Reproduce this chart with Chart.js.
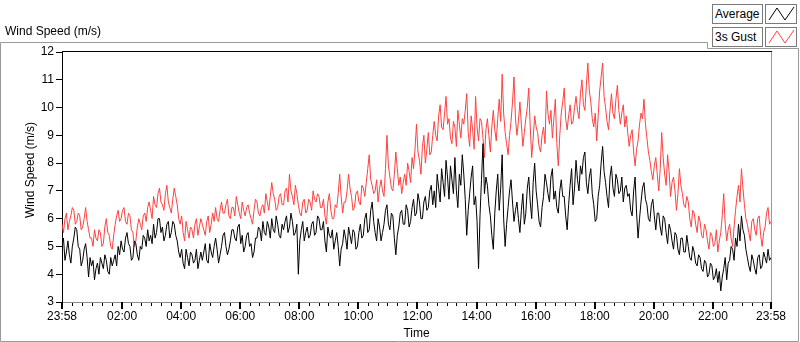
<!DOCTYPE html>
<html>
<head>
<meta charset="utf-8">
<script src="https://cdn.jsdelivr.net/npm/chart.js@4/dist/chart.umd.min.js"></script>
<style>
html,body{margin:0;padding:0;background:#fff;}
#wrap{position:relative;width:800px;height:342px;overflow:hidden;}
#c{position:absolute;left:0;top:0;}
.ttl{position:absolute;left:5px;top:24px;font:12px "Liberation Sans",Arial,sans-serif;color:#000;white-space:nowrap;}
.lgtext{position:absolute;width:47px;height:18px;border:1px solid #7a7a7a;background:#fff;font:12px "Liberation Sans",Arial,sans-serif;line-height:18px;padding-left:2px;color:#000;box-sizing:content-box;}
.lgicon{position:absolute;width:30px;height:18px;border:1px solid #7a7a7a;background:#fff;}
.lgicon svg{display:block;}
</style>
</head>
<body>
<div id="wrap">
<canvas id="c" width="800" height="342"></canvas>
<div class="ttl">Wind Speed (m/s)</div>
<div class="lgtext" style="left:712px;top:4px;">Average</div>
<div class="lgicon" style="left:765px;top:4px;"><svg width="30" height="18"><polyline points="3,15 11,3 19,15 28,2" fill="none" stroke="#000" stroke-width="1"/></svg></div>
<div class="lgtext" style="left:712px;top:27px;">3s Gust</div>
<div class="lgicon" style="left:765px;top:27px;"><svg width="30" height="18"><polyline points="3,15 11,3 19,15 28,2" fill="none" stroke="#ff4040" stroke-width="1"/></svg></div>
</div>
<script>
// ---- data (one sample every 3 minutes, starting 23:58) ----
const sampleMinutes = 3;
const seriesNames = ['Average', '3s Gust'];
const avgSpeed = [
5.0, 5.3, 4.5, 4.8, 5.2, 4.7, 4.4, 5.0, 5.3, 5.7, 5.6, 5.0, 4.9, 4.3, 4.5, 4.9, 5.1, 4.6, 3.9, 4.6,
4.3, 4.5, 3.8, 4.2, 4.4, 4.0, 4.6, 4.4, 4.2, 4.7, 4.5, 4.1, 4.0, 4.6, 4.3, 4.5, 4.7, 4.3, 5.0, 4.7,
5.2, 4.9, 4.8, 5.3, 5.5, 5.1, 5.0, 4.5, 4.6, 5.2, 5.1, 4.7, 4.5, 5.0, 4.9, 5.4, 5.3, 5.0, 5.6, 5.2,
5.4, 5.1, 5.8, 5.3, 5.5, 6.0, 6.0, 5.5, 5.7, 5.2, 5.4, 5.8, 5.9, 5.3, 5.5, 5.9, 5.8, 5.4, 5.2, 4.8,
4.6, 4.9, 4.4, 4.2, 4.9, 4.6, 4.3, 4.8, 4.7, 4.4, 4.5, 4.9, 4.2, 4.5, 4.8, 4.5,
4.8, 5.1, 4.5, 4.4, 5.1, 4.8, 4.6, 5.0, 5.3, 4.9, 4.4, 4.7, 5.0, 5.4, 5.5, 5.0, 4.7, 4.9, 5.2, 5.6,
5.6, 5.3, 5.2, 5.7, 5.8, 5.1, 5.4, 4.8, 5.0, 5.4, 5.5, 5.0, 5.1, 4.6, 4.8, 5.3, 5.3, 5.7, 5.6, 5.2,
5.9, 5.5, 5.4, 5.9, 5.7, 5.3, 6.0, 5.6, 5.5, 6.1, 5.8, 5.4, 5.3, 5.8, 5.6, 5.9, 6.1, 5.5, 5.7, 6.2,
5.9, 5.4, 5.5, 5.8, 4.0, 5.2, 5.6, 5.9, 5.2, 5.5, 5.7, 5.3, 5.4, 5.8, 5.9, 5.4, 5.5, 6.1, 6.0, 5.6,
5.6, 5.9, 5.2, 4.8, 5.7, 5.4, 5.3, 5.6, 4.9, 5.2, 5.5, 5.0, 4.3, 4.9, 5.1, 5.6,
5.3, 4.9, 5.7, 5.4, 5.1, 5.6, 5.5, 4.9, 5.0, 5.5, 5.8, 5.3, 5.4, 6.0, 6.2, 5.5, 5.6, 6.3, 6.6, 5.9,
5.5, 5.2, 6.0, 5.7, 5.2, 5.5, 5.8, 6.3, 6.5, 5.8, 5.6, 6.2, 6.1, 5.3, 4.7, 5.4, 5.7, 6.2, 6.3, 5.8,
5.8, 6.5, 6.3, 5.7, 5.9, 6.4, 6.7, 6.1, 6.2, 6.9, 6.6, 6.0, 6.0, 6.6, 6.8, 6.3, 6.4, 7.0, 7.2, 6.5,
7.0, 6.4, 7.6, 7.1, 6.6, 7.8, 7.3, 6.8, 8.1, 7.5, 6.7, 7.9, 7.4, 6.9, 8.2, 7.0, 6.4, 7.6, 7.2, 8.3,
7.6, 6.7, 5.4, 6.3, 6.9, 7.5, 7.9, 6.5, 6.8, 5.9, 4.2, 6.1, 7.4, 8.7, 6.9, 7.5,
7.2, 6.5, 6.1, 5.4, 4.9, 6.2, 7.0, 7.6, 6.3, 7.1, 8.3, 6.0, 5.0, 5.8, 6.4, 7.0, 7.4, 6.6, 5.9, 6.3,
6.6, 6.0, 5.5, 6.3, 6.9, 5.8, 6.2, 7.1, 7.5, 6.6, 6.0, 7.3, 8.0, 7.0, 6.5, 5.9, 5.7, 6.4, 6.8, 7.6,
7.3, 6.9, 6.6, 7.5, 7.8, 6.7, 7.0, 6.4, 6.2, 7.0, 7.4, 6.8, 6.8, 6.1, 5.6, 6.5, 7.2, 7.8, 6.5, 7.1,
8.1, 7.4, 7.0, 7.9, 7.6, 8.2, 8.4, 7.3, 6.9, 7.5, 7.8, 6.9, 6.5, 5.9, 6.0, 6.8, 7.2, 8.0, 8.6, 7.7,
7.3, 6.8, 6.4, 7.5, 7.9, 7.1, 6.8, 7.6, 7.4, 6.9, 7.0, 7.5, 6.6, 7.1, 7.2, 6.8,
6.9, 6.3, 6.1, 7.0, 7.5, 6.2, 5.3, 6.0, 6.6, 7.1, 7.3, 6.7, 6.5, 6.0, 5.9, 6.5, 6.7, 6.1, 5.6, 6.2,
6.2, 5.7, 5.4, 6.1, 6.0, 5.5, 5.1, 5.8, 5.6, 5.2, 4.9, 5.5, 5.4, 4.9, 4.7, 5.3, 5.3, 4.8, 4.8, 5.4,
5.0, 4.6, 4.5, 5.0, 4.8, 4.4, 4.3, 4.7, 4.6, 4.2, 4.1, 4.5, 4.4, 3.9, 4.0, 4.4, 4.3, 3.8, 3.9, 4.2,
3.7, 4.1, 3.4, 3.9, 4.2, 4.6, 3.8, 4.4, 4.5, 5.0, 4.9, 4.5, 5.3, 5.0, 5.8, 5.2, 6.1, 5.6, 5.4, 4.9,
4.6, 4.3, 4.1, 4.7, 4.5, 4.2, 4.0, 4.6, 4.7, 4.2, 4.3, 4.8, 4.6, 4.4, 4.9, 4.5, 4.6
];
const gustSpeed = [
5.8, 5.5, 6.0, 6.2, 5.6, 5.9, 6.1, 6.4, 6.3, 5.8, 5.9, 6.2, 6.1, 5.6, 5.7, 6.0, 6.4, 5.9, 5.6, 5.3,
5.3, 5.0, 5.6, 5.3, 5.2, 5.6, 5.5, 5.0, 5.1, 5.7, 6.0, 5.5, 5.4, 5.0, 4.9, 5.4, 5.8, 6.1, 6.3, 5.9,
6.0, 6.3, 6.4, 5.9, 5.8, 6.2, 6.1, 5.6, 5.5, 5.0, 5.2, 5.7, 6.0, 5.8, 5.6, 6.1, 6.2, 5.9, 6.4, 6.6,
6.3, 6.0, 6.8, 6.5, 6.4, 6.9, 7.1, 6.6, 6.5, 6.3, 6.9, 7.2, 6.6, 6.4, 6.2, 6.7, 7.1, 6.8, 6.5, 6.0,
5.8, 6.1, 5.5, 5.2, 5.9, 5.6, 5.3, 5.7, 5.6, 5.3, 5.8, 6.0, 5.4, 5.7, 6.0, 5.8,
5.6, 5.4, 5.9, 6.1, 5.5, 5.8, 6.2, 5.9, 6.4, 6.0, 5.9, 6.3, 6.6, 6.2, 6.2, 6.5, 6.7, 6.1, 6.0, 6.4,
6.4, 6.1, 6.8, 6.5, 6.2, 6.0, 6.6, 6.3, 6.1, 6.4, 6.5, 6.2, 6.0, 5.8, 6.3, 6.7, 6.6, 6.2, 6.1, 6.4,
6.5, 6.2, 6.9, 6.6, 6.3, 6.8, 7.3, 6.9, 6.7, 6.3, 6.4, 6.8, 6.9, 6.5, 6.5, 7.0, 7.1, 6.6, 7.6, 7.0,
6.8, 6.5, 7.2, 6.9, 6.5, 6.2, 6.1, 6.6, 6.7, 6.2, 6.3, 6.7, 6.6, 6.3, 7.0, 6.7, 6.6, 6.9, 6.8, 6.4,
6.4, 6.7, 6.1, 5.8, 6.6, 6.9, 6.3, 6.0, 6.0, 6.5, 6.4, 6.9, 7.6, 6.8, 6.2, 6.6,
6.6, 7.0, 7.6, 7.1, 6.8, 6.3, 6.4, 6.9, 7.0, 6.6, 6.5, 7.2, 7.1, 6.8, 7.3, 7.8, 8.3, 7.4, 7.2, 6.9,
7.0, 7.4, 6.6, 7.1, 7.4, 7.0, 6.8, 7.8, 9.0, 7.9, 7.5, 7.1, 7.0, 7.6, 8.4, 7.8, 7.2, 7.5, 6.9, 7.3,
7.6, 7.2, 8.0, 7.7, 7.3, 8.2, 7.8, 8.5, 9.4, 8.4, 8.1, 7.6, 8.6, 9.0, 8.0, 8.5, 9.1, 8.3, 8.4, 9.0,
9.5, 9.0, 8.8, 9.7, 10.1, 9.3, 9.2, 9.8, 10.4, 9.4, 9.6, 8.9, 8.7, 9.5, 9.3, 8.6, 9.9, 9.4, 8.9, 9.6,
9.4, 9.9, 10.5, 9.1, 8.6, 9.7, 9.2, 8.5, 10.4, 9.3, 8.8, 9.6, 9.5, 8.9, 8.2, 9.2,
9.6, 9.0, 8.4, 9.3, 9.9, 9.2, 8.8, 9.6, 10.3, 9.5, 11.2, 9.8, 9.1, 8.7, 8.3, 9.0, 9.5, 10.2, 11.1, 9.6,
9.0, 9.5, 10.2, 9.4, 8.6, 9.1, 9.6, 10.0, 10.7, 9.3, 8.2, 8.9, 9.7, 9.3, 9.1, 8.6, 8.4, 9.0, 9.3, 8.7,
10.6, 9.8, 9.4, 9.9, 8.9, 9.6, 10.3, 8.7, 7.9, 9.0, 9.8, 10.2, 10.7, 9.6, 9.2, 9.7, 10.1, 9.4, 9.5, 10.0,
10.4, 9.9, 9.6, 10.5, 11.0, 10.1, 9.9, 10.8, 11.6, 10.6, 10.2, 9.6, 9.3, 9.8, 8.8, 9.7, 10.6, 11.1, 11.6, 10.4,
10.0, 9.5, 9.2, 9.9, 10.5, 9.8, 9.6, 10.3, 10.8, 9.9, 9.4, 9.8, 10.1, 9.3, 9.7, 9.1,
8.6, 9.0, 9.2, 8.4, 7.9, 8.5, 8.8, 9.4, 9.8, 9.6, 10.3, 9.4, 8.9, 8.4, 8.1, 7.7, 7.4, 7.9, 8.2, 7.6,
7.0, 7.8, 9.1, 8.2, 7.6, 7.2, 8.3, 7.7, 6.8, 7.3, 7.5, 7.0, 6.3, 6.9, 7.8, 7.2, 6.9, 6.5, 6.4, 6.8,
6.6, 6.0, 5.7, 6.3, 6.2, 5.8, 5.5, 6.1, 5.9, 5.4, 5.3, 5.8, 5.6, 5.2, 4.9, 5.5, 5.4, 5.0, 5.1, 5.6,
4.8, 5.2, 5.5, 6.1, 6.9, 5.8, 5.2, 5.6, 5.8, 5.3, 5.0, 5.7, 6.3, 6.8, 7.2, 6.6, 7.8, 7.1, 6.5, 6.0,
5.8, 5.5, 5.2, 5.9, 6.0, 5.6, 5.4, 6.0, 6.1, 5.4, 5.0, 5.5, 5.7, 6.2, 6.4, 5.8, 5.9
];
const xTickLabels = ['23:58','02:00','04:00','06:00','08:00','10:00','12:00','14:00','16:00','18:00','20:00','22:00','23:58'];
const majorTickMinutes = [0,122,242,362,482,602,722,842,962,1082,1202,1322,1440];
const minorTickStep = 20;
const yTitle = 'Wind Speed (m/s)';
const xTitle = 'Time';

const toPoints = arr => arr.map((v, i) => ({x: i * sampleMinutes, y: v}));

const allTicks = [0];
for (let t = 2 + minorTickStep; t < 1440; t += minorTickStep) allTicks.push(t);
allTicks.push(1440);

const FONT = '"Liberation Sans", Arial, sans-serif';

const decor = {
  id: 'decor',
  afterDraw(chart) {
    const {ctx, chartArea: a, scales: {x}} = chart;
    ctx.save();
    ctx.lineWidth = 1;
    ctx.strokeStyle = '#000';
    ctx.beginPath(); ctx.moveTo(a.left, a.top - 0.5); ctx.lineTo(a.right + 1, a.top - 0.5); ctx.stroke();
    ctx.strokeStyle = '#9a9a9a';
    ctx.beginPath(); ctx.moveTo(a.right + 0.5, a.top); ctx.lineTo(a.right + 0.5, a.bottom + 1); ctx.stroke();
    ctx.strokeStyle = '#000';
    ctx.lineWidth = 2;
    majorTickMinutes.forEach(m => {
      const px = Math.round(x.getPixelForValue(m));
      ctx.beginPath(); ctx.moveTo(px, a.bottom); ctx.lineTo(px, a.bottom + 7); ctx.stroke();
    });
    ctx.lineWidth = 1;
    ctx.strokeStyle = '#9a9a9a';
    ctx.beginPath();
    ctx.moveTo(0.5, 341.5); ctx.lineTo(0.5, 42.5); ctx.lineTo(707.5, 42.5); ctx.lineTo(707.5, 48.5);
    ctx.lineTo(798.5, 48.5); ctx.lineTo(798.5, 341.5); ctx.lineTo(0.5, 341.5);
    ctx.stroke();
    ctx.translate(31, 170);
    ctx.rotate(-Math.PI / 2);
    ctx.fillStyle = '#000';
    ctx.font = '12px ' + FONT;
    ctx.textAlign = 'center';
    ctx.textBaseline = 'middle';
    ctx.fillText(yTitle, 0, 0);
    ctx.restore();
  }
};

new Chart(document.getElementById('c'), {
  type: 'line',
  data: {
    datasets: [
      {label: seriesNames[0], data: toPoints(avgSpeed), borderColor: '#000000', borderWidth: 1, pointRadius: 0, tension: 0, fill: false},
      {label: seriesNames[1], data: toPoints(gustSpeed), borderColor: '#ff4040', borderWidth: 1, pointRadius: 0, tension: 0, fill: false}
    ]
  },
  options: {
    responsive: false,
    animation: false,
    devicePixelRatio: 1,
    layout: {padding: {top: 52, right: 29, left: 0, bottom: 0}},
    plugins: {legend: {display: false}, tooltip: {enabled: false}, title: {display: false}},
    scales: {
      x: {
        type: 'linear', min: 0, max: 1440,
        afterBuildTicks: s => { s.ticks = allTicks.map(v => ({value: v})); },
        afterFit: s => { s.height = 40; },
        ticks: {
          autoSkip: false, maxRotation: 0, minRotation: 0, padding: 3,
          color: '#000', font: {family: FONT, size: 12},
          callback: v => { const i = majorTickMinutes.indexOf(v); return i >= 0 ? xTickLabels[i] : ''; }
        },
        grid: {display: true, drawOnChartArea: false, drawTicks: true, tickLength: 4, tickColor: '#000', tickWidth: 1},
        border: {display: true, color: '#8a8a8a', width: 1},
        title: {display: true, text: xTitle, color: '#000', font: {family: FONT, size: 12}, padding: {top: 0, bottom: 1}}
      },
      y: {
        min: 3, max: 12,
        afterFit: s => { s.width = 62; },
        ticks: {stepSize: 1, padding: 2, color: '#000', font: {family: FONT, size: 12}},
        grid: {display: true, drawOnChartArea: false, drawTicks: true, tickLength: 6, tickColor: '#000'},
        border: {display: true, color: '#000', width: 1}
      }
    }
  },
  plugins: [decor]
});
</script>
</body>
</html>
